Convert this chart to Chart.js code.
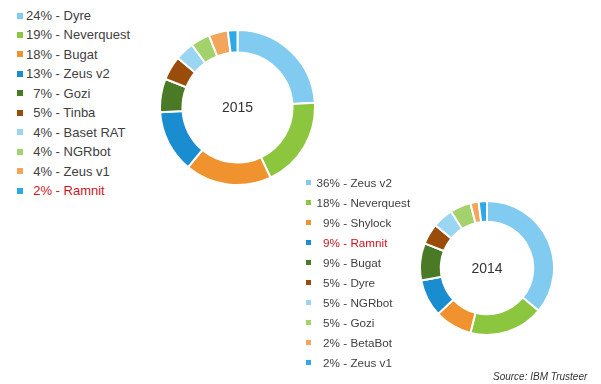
<!DOCTYPE html>
<html>
<head>
<meta charset="utf-8">
<script src="https://cdn.jsdelivr.net/npm/chart.js@4"></script>
<style>
  body { margin: 0; background: #fff; font-family: "Liberation Sans", Arial, sans-serif; color: #404040; }
  #wrap { position: relative; width: 601px; height: 384px; overflow: hidden; }
  .chartBox { position: absolute; }
  .legend { position: absolute; }
  .legend .row { position: absolute; left: 0; white-space: nowrap; line-height: 1; }
  .legend .box { position: absolute; left: 0; }
  .legend .pct { display: inline-block; text-align: right; }
  #source { position: absolute; left: 493px; top: 371px; font-size: 10px; font-style: italic; color: #333; }
</style>
</head>
<body>
<div id="wrap">
  <div id="legend2015" class="legend" style="left:17px;top:0px"></div>
  <div class="chartBox" style="left:159px;top:29px;width:157px;height:157px"><canvas id="chart2015"></canvas></div>
  <div id="legend2014" class="legend" style="left:306px;top:0px"></div>
  <div class="chartBox" style="left:419px;top:200px;width:136px;height:136px"><canvas id="chart2014"></canvas></div>
  <div id="source">Source: IBM Trusteer</div>
</div>
<script>
const colors = [
  "#80cbef", "#8cc63f", "#f0922e", "#1a8dd0", "#4a7a26",
  "#9a4d0b", "#9ad6f2", "#a3d16b", "#f4a55c", "#2ca9e6",
];

const labels2015 = ["Dyre", "Neverquest", "Bugat", "Zeus v2", "Gozi", "Tinba", "Baset RAT", "NGRbot", "Zeus v1", "Ramnit"];
const values2015 = [24, 19, 18, 13, 7, 5, 4, 4, 4, 2];

const labels2014 = ["Zeus v2", "Neverquest", "Shylock", "Ramnit", "Bugat", "Dyre", "NGRbot", "Gozi", "BetaBot", "Zeus v1"];
const values2014 = [36, 18, 9, 9, 9, 5, 5, 5, 2, 2];

const highlight = "Ramnit";

// text in the middle of the ring
const centerText = {
  id: "centerText",
  afterDraw(chart, args, opts) {
    const { ctx, chartArea } = chart;
    ctx.save();
    ctx.font = "14px 'Liberation Sans', Arial, sans-serif";
    ctx.fillStyle = "#333";
    ctx.textAlign = "center";
    ctx.textBaseline = "middle";
    ctx.fillText(opts.text, (chartArea.left + chartArea.right) / 2, (chartArea.top + chartArea.bottom) / 2 + 1);
    ctx.restore();
  },
};

function makeDoughnut(id, labels, values, cutout, year) {
  return new Chart(document.getElementById(id), {
    type: "doughnut",
    data: {
      labels: labels,
      datasets: [
        {
          data: values,
          backgroundColor: colors,
          borderColor: "#ffffff",
          borderWidth: 2,
        },
      ],
    },
    options: {
      responsive: true,
      maintainAspectRatio: false,
      animation: false,
      cutout: cutout,
      layout: { padding: 0 },
      plugins: {
        legend: { display: false },
        tooltip: { enabled: false },
        centerText: { text: year },
      },
    },
    plugins: [centerText],
  });
}

function makeLegend(elId, labels, values, opt) {
  const el = document.getElementById(elId);
  labels.forEach((name, i) => {
    const row = document.createElement("div");
    row.className = "row";
    row.style.top = (opt.top + i * opt.step) + "px";
    row.style.fontSize = opt.font + "px";
    const box = document.createElement("span");
    box.className = "box";
    box.style.width = opt.box + "px";
    box.style.height = opt.box + "px";
    box.style.top = ((opt.font - opt.box) / 2) + "px";
    box.style.background = colors[i];
    const text = document.createElement("span");
    text.style.position = "absolute";
    text.style.left = opt.textLeft + "px";
    text.style.color = name === highlight ? "#d0121b" : "#404040";
    const pct = document.createElement("span");
    pct.className = "pct";
    pct.style.width = opt.pctWidth + "px";
    pct.textContent = values[i] + "%";
    text.appendChild(pct);
    text.appendChild(document.createTextNode(" - " + name));
    row.appendChild(box);
    row.appendChild(text);
    el.appendChild(row);
  });
}

makeDoughnut("chart2015", labels2015, values2015, "71%", "2015");
makeDoughnut("chart2014", labels2014, values2014, "69%", "2014");

makeLegend("legend2015", labels2015, values2015, { top: 9, step: 19.45, font: 13, box: 6, textLeft: 9, pctWidth: 26 });
makeLegend("legend2014", labels2014, values2014, { top: 177, step: 19.95, font: 11.7, box: 5, textLeft: 10, pctWidth: 24 });
</script>
</body>
</html>
